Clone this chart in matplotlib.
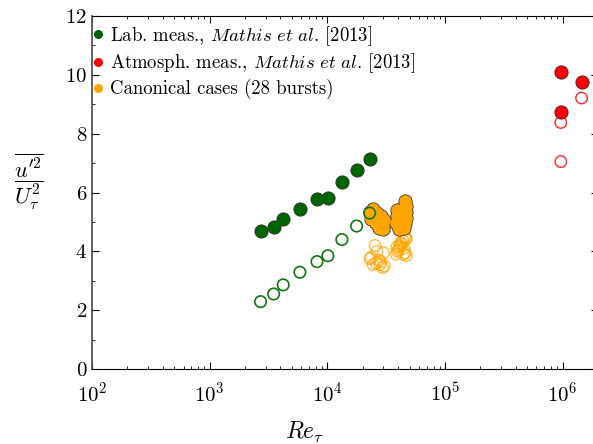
import matplotlib
matplotlib.use("Agg")
import matplotlib.pyplot as plt
from matplotlib.lines import Line2D

plt.rcParams['font.family'] = 'serif'
plt.rcParams['font.serif'] = ['cmr10']
plt.rcParams['mathtext.fontset'] = 'cm'
plt.rcParams['axes.formatter.use_mathtext'] = True
plt.rcParams['axes.unicode_minus'] = False

# Laboratory measurements (Mathis et al. 2013)
lab_re = [2710, 3500, 4220, 5850, 8170, 10120, 13300, 17750, 22900]
lab_full = [4.70, 4.84, 5.11, 5.43, 5.79, 5.81, 6.35, 6.76, 7.15]
lab_open = [2.29, 2.55, 2.86, 3.29, 3.65, 3.85, 4.40, 4.86, 5.30]

# Atmospheric measurements (Mathis et al. 2013)
atm_re = [9.66e5, 1.45e6, 9.66e5]
atm_full = [10.11, 9.77, 8.75]
atm_open = [8.38, 9.21, 7.05]

# Canonical cases, 28 bursts
can_re = [23000, 24500, 26500, 28500, 30500, 29500, 27500, 25500, 23500, 26000, 30000, 28000,
          45500, 46500, 44000, 41500, 39000, 38500, 40500, 43000, 46000, 47000, 45000, 42000,
          39500, 44500, 41000, 47000]
can_full = [5.35, 5.45, 5.30, 5.20, 5.05, 4.85, 4.80, 5.05, 5.10, 4.95, 4.75, 5.00,
            5.72, 5.55, 5.40, 5.30, 5.20, 4.95, 4.85, 4.90, 4.95, 5.15, 5.10, 5.05,
            5.40, 4.80, 4.75, 5.35]
can_open = [3.75, 3.55, 4.00, 3.65, 3.50, 3.45, 3.70, 4.20, 3.80, 3.60, 3.95, 3.55,
            4.50, 4.40, 4.35, 4.20, 4.15, 3.90, 4.05, 4.25, 3.95, 3.85, 4.10, 4.30,
            4.00, 3.90, 4.15, 4.45]

fig = plt.figure(figsize=(5.93, 4.44), dpi=100)
# right spine sits just past the figure edge
ax = fig.add_axes([92 / 593, 75 / 444, 506 / 593, 353 / 444])

s_fill = 82
s_edge = 104
s_open = 68


def filled(x, y, color):
    ax.scatter(x, y, s=s_edge, c='#333333', linewidths=0, zorder=3)
    ax.scatter(x, y, s=s_fill, c=color, linewidths=0, zorder=3)


ax.scatter(can_re, can_open, s=s_open, facecolors='none', edgecolors='orange',
           linewidths=1.0, alpha=0.75, zorder=2)
filled(can_re, can_full, 'orange')
ax.scatter(lab_re, lab_open, s=s_open, facecolors='none', edgecolors='#117711',
           linewidths=1.2, zorder=4)
filled(lab_re, lab_full, '#006400')
ax.scatter(atm_re, atm_open, s=s_open, facecolors='none', edgecolors='red',
           linewidths=1.0, alpha=0.85, zorder=2)
filled(atm_re, atm_full, 'red')

ax.set_xscale('log')
ax.set_xlim(1e2, 2e6)
ax.set_ylim(0, 12)
ax.set_yticks([0, 2, 4, 6, 8, 10, 12])
ax.set_yticks([1, 3, 5, 7, 9, 11], minor=True)

ax.tick_params(which='both', direction='in', top=True, right=True, labelsize=15)
ax.tick_params(which='major', length=5)
ax.tick_params(which='minor', length=2.5)
ax.tick_params(axis='x', which='major', pad=9)
ax.spines['left'].set_color('#555555')
ax.spines['left'].set_linewidth(1.3)

ax.set_xlabel(r'$Re_\tau$', fontsize=17)
ax.xaxis.set_label_coords(0.421, -0.145)
ax.set_ylabel(r'$\dfrac{\overline{u^{\prime 2}}}{U_\tau^2}$', fontsize=16,
              rotation=0, va='center', ha='center')
ax.yaxis.set_label_coords(-0.124, 0.53)

handles = [
    Line2D([], [], ls='none', marker='o', ms=6.5, mfc='#006400', mec='none'),
    Line2D([], [], ls='none', marker='o', ms=6.5, mfc='red', mec='none'),
    Line2D([], [], ls='none', marker='o', ms=6.5, mfc='orange', mec='none'),
]
labels = [
    r'Lab. meas., $\mathit{Mathis\ et\ al}$. [2013]',
    r'Atmosph. meas., $\mathit{Mathis\ et\ al}$. [2013]',
    'Canonical cases (28 bursts)',
]
ax.legend(handles, labels, loc='upper left', bbox_to_anchor=(-0.002, 0.977),
          frameon=False, fontsize=13.5, handletextpad=0.2, handlelength=0.8,
          borderaxespad=0.0, borderpad=0.0, labelspacing=0.2)

fig.savefig('out.png', dpi=100)
